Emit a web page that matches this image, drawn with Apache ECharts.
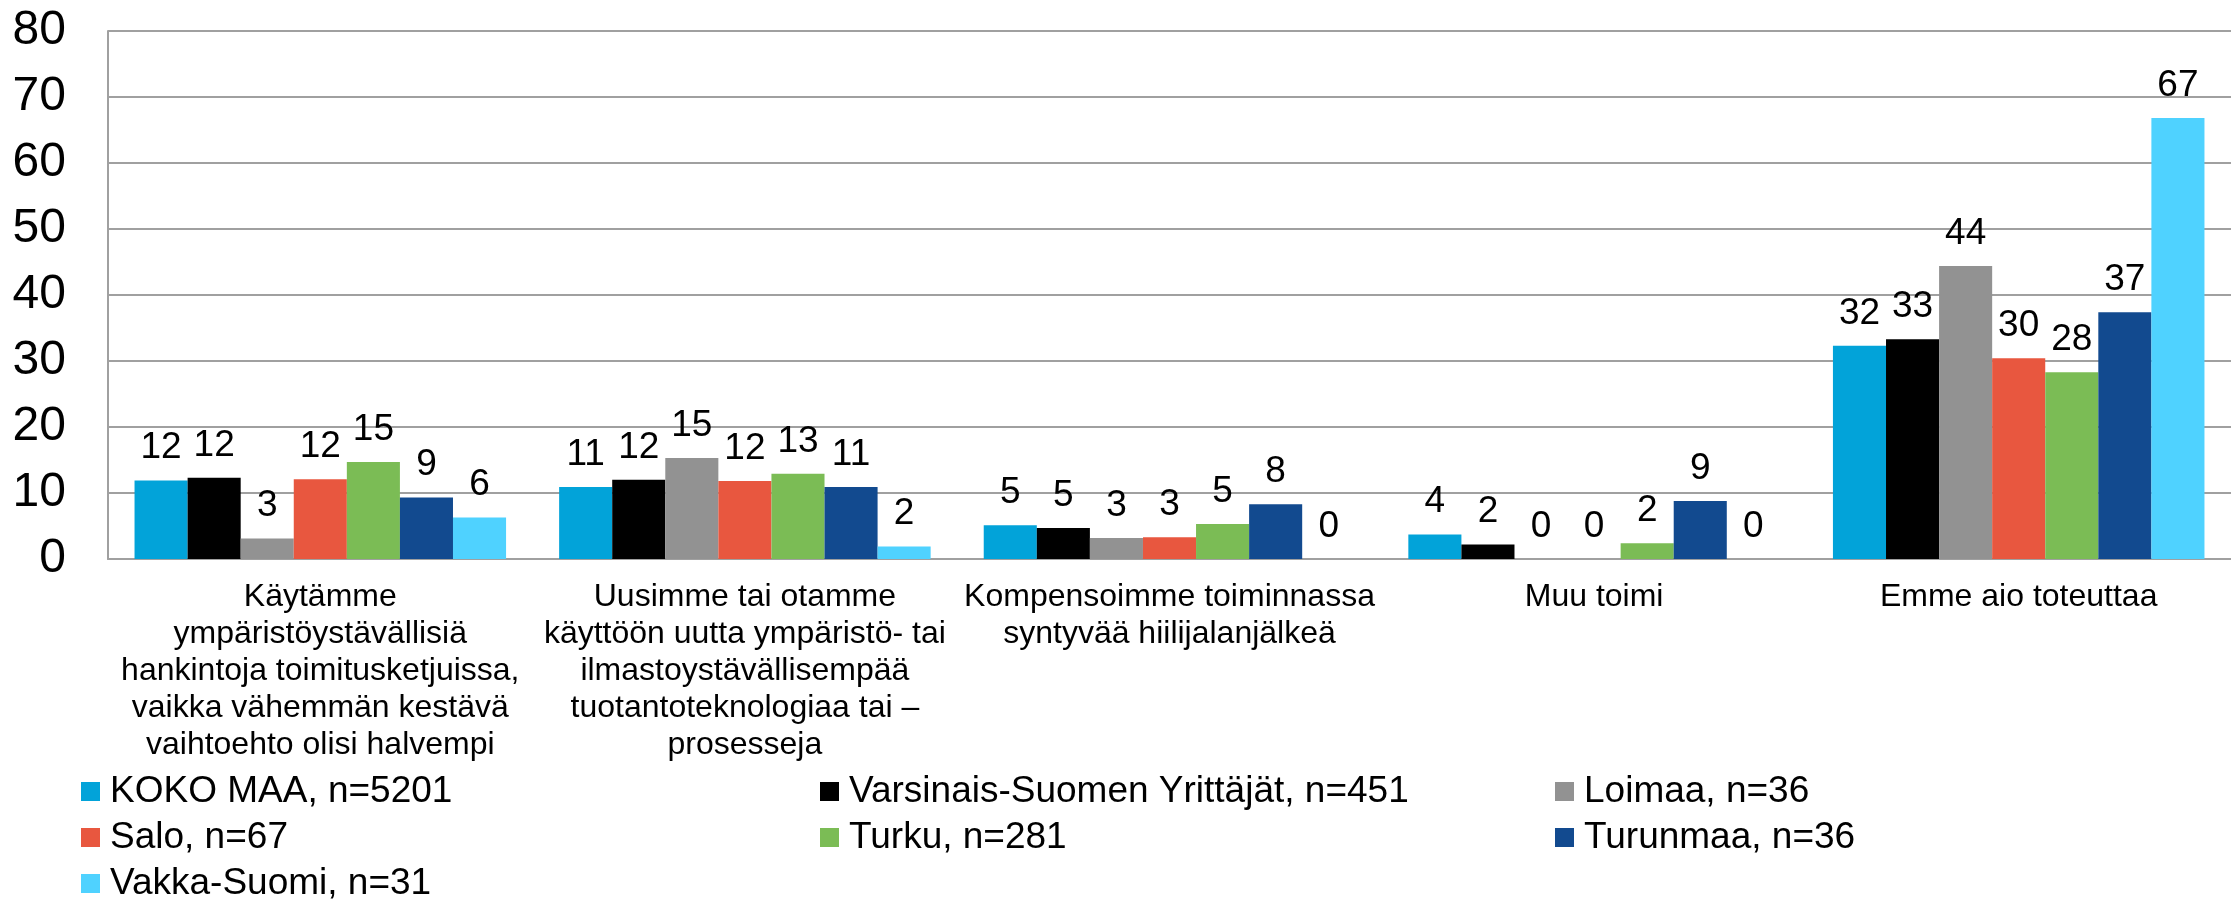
<!DOCTYPE html>
<html>
<head>
<meta charset="utf-8">
<script src="https://cdn.jsdelivr.net/npm/echarts@6/dist/echarts.min.js"></script>
<style>
  html, body { margin: 0; padding: 0; background: #fff; }
  #chart { width: 2231px; height: 899px; }
</style>
</head>
<body>
<div id="chart"></div>
<script>
var categories = [
  'Käytämme\nympäristöystävällisiä\nhankintoja toimitusketjuissa,\nvaikka vähemmän kestävä\nvaihtoehto olisi halvempi',
  'Uusimme tai otamme\nkäyttöön uutta ympäristö- tai\nilmastoystävällisempää\ntuotantoteknologiaa tai –\nprosesseja',
  'Kompensoimme toiminnassa\nsyntyvää hiilijalanjälkeä',
  'Muu toimi',
  'Emme aio toteuttaa'
];
var seriesNames = [
  'KOKO MAA, n=5201',
  'Varsinais-Suomen Yrittäjät, n=451',
  'Loimaa, n=36',
  'Salo, n=67',
  'Turku, n=281',
  'Turunmaa, n=36',
  'Vakka-Suomi, n=31'
];
var kokoMaa   = [11.9, 10.9, 5.1, 3.7, 32.3];
var varsinais = [12.3, 12.0, 4.7, 2.2, 33.3];
var loimaa    = [3.1, 15.3, 3.2, 0, 44.4];
var salo      = [12.1, 11.8, 3.3, 0, 30.4];
var turku     = [14.7, 12.9, 5.3, 2.4, 28.3];
var turunmaa  = [9.3, 10.9, 8.3, 8.8, 37.4];
var vakka     = [6.3, 1.9, 0, 0, 66.8];
var yTicks = [0, 10, 20, 30, 40, 50, 60, 70, 80];

var colors = ['#02A3D9', '#000000', '#929292', '#E8573F', '#7BBC55', '#124A8F', '#4FD2FF'];
var values = [kokoMaa, varsinais, loimaa, salo, turku, turunmaa, vakka];
var font = 'Liberation Sans, Arial, sans-serif';

var chart = echarts.init(document.getElementById('chart'));

var series = seriesNames.map(function (name, i) {
  return {
    name: name,
    type: 'bar',
    data: values[i],
    barGap: '0%',
    barCategoryGap: '12.5%',
    itemStyle: { color: colors[i] },
    label: {
      show: true,
      position: 'top',
      distance: 14,
      color: '#000',
      fontSize: 37,
      fontFamily: font,
      formatter: function (p) { return Math.round(p.value); }
    }
  };
});

// three fixed legend columns like the original
function legendCol(left, names) {
  return {
    orient: 'vertical',
    left: left,
    top: 773,
    height: 300,
    icon: 'rect',
    itemWidth: 19,
    itemHeight: 19,
    itemGap: 9,
    padding: 0,
    selectedMode: false,
    data: names,
    textStyle: {
      fontSize: 37,
      lineHeight: 37,
      color: '#000',
      fontFamily: font,
      padding: [0, 0, 0, 5]
    }
  };
}

var option = {
  animation: false,
  backgroundColor: '#fff',
  color: colors,
  grid: { left: 108, top: 31, right: -15, bottom: 340, containLabel: false },
  legend: [
    legendCol(81, [seriesNames[0], seriesNames[3], seriesNames[6]]),
    legendCol(820, [seriesNames[1], seriesNames[4]]),
    legendCol(1555, [seriesNames[2], seriesNames[5]])
  ],
  xAxis: {
    type: 'category',
    data: categories,
    axisLine: { show: true, lineStyle: { color: '#A0A0A0', width: 2 } },
    axisTick: { show: false },
    axisLabel: {
      interval: 0,
      margin: 20,
      color: '#000',
      fontSize: 32,
      lineHeight: 37,
      fontFamily: font,
      align: 'center'
    }
  },
  yAxis: {
    type: 'value',
    min: yTicks[0],
    max: yTicks[yTicks.length - 1],
    interval: 10,
    axisLine: { show: true, lineStyle: { color: '#A0A0A0', width: 2 } },
    axisTick: { show: false },
    axisLabel: { margin: 42, color: '#000', fontSize: 48, fontFamily: font },
    splitLine: { show: true, lineStyle: { color: '#A0A0A0', width: 2 } }
  },
  series: series
};

chart.setOption(option);
</script>
</body>
</html>
